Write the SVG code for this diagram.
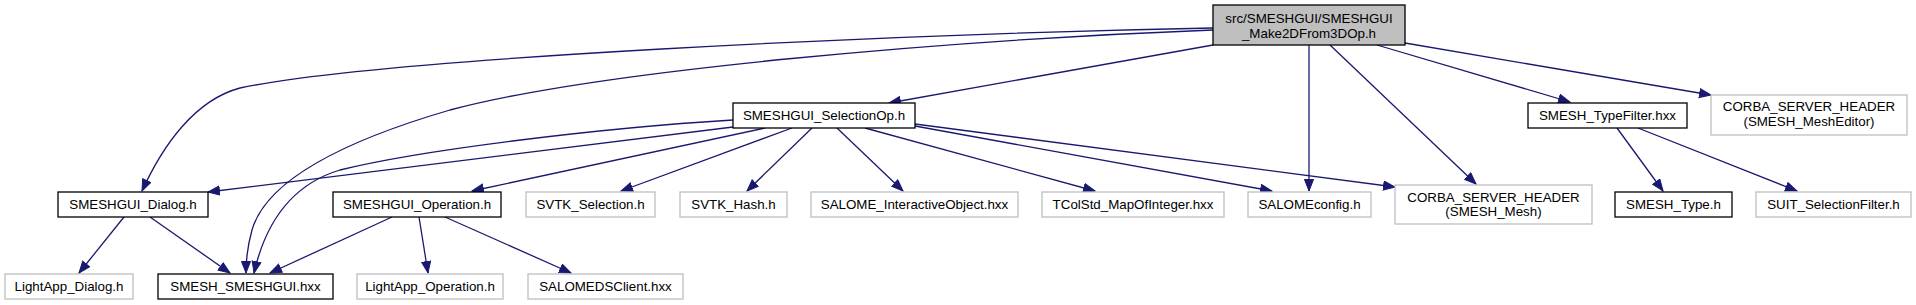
<svg xmlns="http://www.w3.org/2000/svg" width="1916" height="305" viewBox="0 0 1916 305">
<style>
.n rect{fill:#fff;stroke:#000;stroke-width:1.3}
.g rect{stroke:#bfbfbf;stroke-width:1.3}
.r rect{fill:#bfbfbf}
text{font-family:"Liberation Sans",Arial,sans-serif;font-size:13.33px;fill:#000;text-anchor:middle}
#edges path{fill:none;stroke:#191970;stroke-width:1.3;marker-end:url(#a)}
</style>
<defs>
<marker id="a" markerWidth="13" markerHeight="11" refX="12" refY="5" orient="auto" markerUnits="userSpaceOnUse">
<path d="M0.5,0.5 L12,5 L0.5,9.5 z" fill="#191970" stroke="#191970" stroke-width="1"/>
</marker>
</defs>
<rect width="1916" height="305" fill="#fff"/>
<g id="edges">
<path d="M1213,28 C900,34 380,58 240,88 C195,100 163,145 142,191"/>
<path d="M1213,30 C950,40 600,70 450,110 C330,145 265,185 252,230 C247,248 246,258 246,273"/>
<path d="M1213,45 L889,103"/>
<path d="M1309,45 L1309,191"/>
<path d="M1330,45 L1476,184"/>
<path d="M1377,45 L1570,102"/>
<path d="M1405,43 L1711,95"/>
<path d="M733,120 C600,128 420,150 340,170 C290,185 265,225 254,273"/>
<path d="M733,127 L208,192"/>
<path d="M765,128 L472,191"/>
<path d="M792,128 L621,191"/>
<path d="M812,128 L747,191"/>
<path d="M837,128 L903,191"/>
<path d="M865,128 L1095,191"/>
<path d="M915,126 L1272,191"/>
<path d="M915,124 L1395,187"/>
<path d="M124,217 L79,273"/>
<path d="M150,217 L230,273"/>
<path d="M392,217 L270,273"/>
<path d="M419,217 L428,273"/>
<path d="M445,217 L571,273"/>
<path d="M1617,128 L1663,191"/>
<path d="M1638,128 L1797,191"/>
</g>
<g id="root" class="n r"><rect x="1213" y="5" width="192" height="40"/><text x="1309" y="23">src/SMESHGUI/SMESHGUI</text><text x="1309" y="38">_Make2DFrom3DOp.h</text></g>
<g id="selectionop" class="n"><rect x="733" y="103" width="182" height="25"/><text x="824" y="120">SMESHGUI_SelectionOp.h</text></g>
<g id="dialog" class="n"><rect x="58" y="192" width="150" height="25"/><text x="133" y="209">SMESHGUI_Dialog.h</text></g>
<g id="operation" class="n"><rect x="333" y="192" width="168" height="25"/><text x="417" y="209">SMESHGUI_Operation.h</text></g>
<g id="svtk_selection" class="n g"><rect x="526" y="192" width="129" height="25"/><text x="590.5" y="209">SVTK_Selection.h</text></g>
<g id="svtk_hash" class="n g"><rect x="680" y="192" width="107" height="25"/><text x="733.5" y="209">SVTK_Hash.h</text></g>
<g id="salome_io" class="n g"><rect x="811" y="192" width="207" height="25"/><text x="914.5" y="209">SALOME_InteractiveObject.hxx</text></g>
<g id="tcolstd" class="n g"><rect x="1042" y="192" width="182" height="25"/><text x="1133" y="209">TColStd_MapOfInteger.hxx</text></g>
<g id="salomeconfig" class="n g"><rect x="1248" y="192" width="123" height="25"/><text x="1309.5" y="209">SALOMEconfig.h</text></g>
<g id="corba_mesh" class="n g"><rect x="1395" y="185" width="197" height="39"/><text x="1493.5" y="202">CORBA_SERVER_HEADER</text><text x="1493.5" y="216">(SMESH_Mesh)</text></g>
<g id="typefilter" class="n"><rect x="1528" y="103" width="159" height="25"/><text x="1607.5" y="120">SMESH_TypeFilter.hxx</text></g>
<g id="corba_mesheditor" class="n g"><rect x="1711" y="95" width="196" height="40"/><text x="1809" y="111">CORBA_SERVER_HEADER</text><text x="1809" y="126">(SMESH_MeshEditor)</text></g>
<g id="smesh_type" class="n"><rect x="1615" y="192" width="117" height="25"/><text x="1673.5" y="209">SMESH_Type.h</text></g>
<g id="suit_selfilter" class="n g"><rect x="1756" y="192" width="155" height="25"/><text x="1833.5" y="209">SUIT_SelectionFilter.h</text></g>
<g id="lightapp_dialog" class="n g"><rect x="5" y="274" width="128" height="25"/><text x="69" y="291">LightApp_Dialog.h</text></g>
<g id="smesh_smeshgui" class="n"><rect x="158" y="274" width="175" height="25"/><text x="245.5" y="291">SMESH_SMESHGUI.hxx</text></g>
<g id="lightapp_operation" class="n g"><rect x="357" y="274" width="146" height="25"/><text x="430" y="291">LightApp_Operation.h</text></g>
<g id="salomedsclient" class="n g"><rect x="528" y="274" width="155" height="25"/><text x="605.5" y="291">SALOMEDSClient.hxx</text></g>
</svg>
